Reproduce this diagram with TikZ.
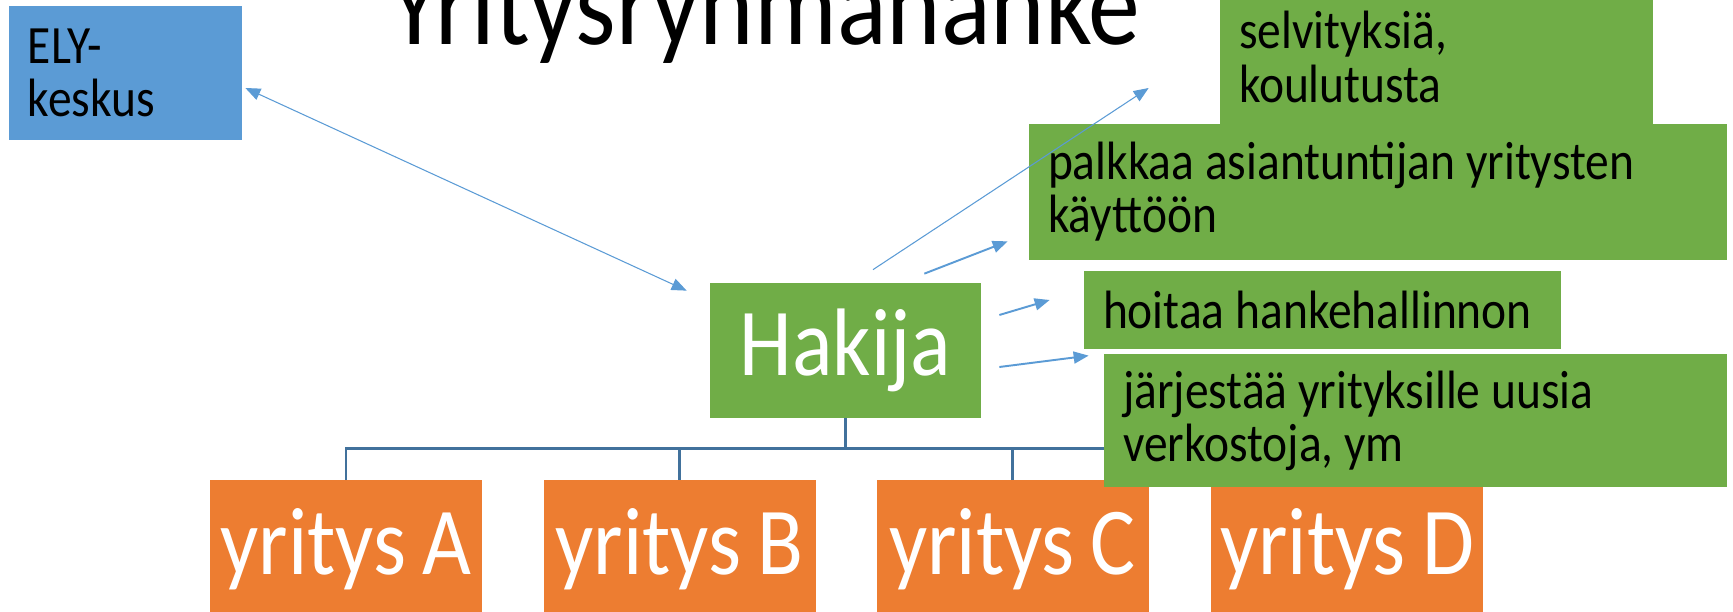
\documentclass[tikz,border=0pt]{standalone}
\usepackage{fontspec}
\setmainfont[FakeStretch=0.88,WordSpace=0.85]{Carlito}
\usetikzlibrary{arrows.meta}
\definecolor{elyblue}{RGB}{91,155,213}
\definecolor{boxgreen}{RGB}{112,173,71}
\definecolor{boxorange}{RGB}{237,125,49}
\definecolor{treeblue}{RGB}{65,113,156}
\newcommand{\smalltext}{\fontsize{30.7}{30.2}\selectfont}
\newcommand{\bigtext}{\fontsize{54.6}{60}\selectfont}
\newcommand{\titletext}{\fontsize{67}{70}\selectfont}

\begin{document}
\begin{tikzpicture}[
    textbox/.style={rectangle,fill=#1,inner xsep=0.38cm,inner ysep=0pt,align=left,font=\smalltext,
        execute at begin node={\spaceskip=0.2em\relax}},
    bigbox/.style={rectangle,fill=#1,text=white,inner sep=0pt,font=\bigtext,minimum width=5.44cm,minimum height=2.76cm},
    tree/.style={draw=treeblue,line width=1.4pt},
    arr/.style={draw=elyblue,line width=0.6pt,-{Triangle[length=0.3cm,width=0.24cm]}},
    biarr/.style={draw=elyblue,line width=0.6pt,{Triangle[length=0.3cm,width=0.24cm]}-{Triangle[length=0.3cm,width=0.24cm]}}
]
\useasboundingbox (0,0) rectangle (34.66,12.24);

% boxes
\node[textbox=elyblue,minimum width=4.66cm,text width=3.90cm,minimum height=2.68cm] (ely) at (2.51,10.78) {ELY-\\keskus};
\node[font=\titletext,anchor=base] (title) at (15.30,11.34) {Yritysryhmähanke};
\node[textbox=boxgreen,minimum width=8.66cm,text width=7.90cm,minimum height=2.68cm] (selv) at (28.73,11.10) {selvityksiä,\\koulutusta};
\node[textbox=boxgreen,minimum width=13.96cm,text width=13.20cm,minimum height=2.72cm] (palk) at (27.56,8.40) {palkkaa asiantuntijan yritysten\\käyttöön};
\node[textbox=boxgreen,minimum width=9.54cm,text width=8.78cm,minimum height=1.56cm] (hoit) at (26.45,6.04) {hoitaa hankehallinnon};
\node[bigbox=boxgreen,minimum width=5.42cm,minimum height=2.70cm] (hakija) at (16.91,5.23) {Hakija};
\node[bigbox=boxorange] (ya) at (6.92,1.26) {yritys A};
\node[bigbox=boxorange] (yb) at (13.59,1.26) {yritys B};
\node[bigbox=boxorange] (yc) at (20.25,1.26) {yritys C};
\node[bigbox=boxorange] (yd) at (26.94,1.26) {yritys D};

% tree
\draw[tree] (hakija.south) -- ++(0,-0.6) -| (ya.north);
\draw[tree] (hakija.south) -- ++(0,-0.6) -| (yb.north);
\draw[tree] (hakija.south) -- ++(0,-0.6) -| (yc.north);
\draw[tree] (hakija.south) -- ++(0,-0.6) -| (yd.north);

\node[textbox=boxgreen,minimum width=12.46cm,text width=11.70cm,minimum height=2.66cm] (jarj) at (28.31,3.83) {järjestää yrityksille uusia\\verkostoja, ym};

% arrows
\draw[biarr] ([shift={(0.06,-0.30)}]ely.east) -- ([shift={(-0.46,-0.16)}]hakija.north west);
\draw[arr] ([shift={(0.55,0.26)}]hakija.north) -- ([shift={(-1.42,-0.62)}]selv.west);
\draw[arr,line width=1.1pt] ([shift={(-1.14,0.18)}]hakija.north east) -- ([shift={(-0.42,0.38)}]palk.south west);
\draw[arr,line width=1.1pt] ([shift={(0.36,0.71)}]hakija.east) -- ([shift={(-0.68,0.20)}]hoit.west);
\draw[arr,line width=1.1pt] ([shift={(0.36,-0.33)}]hakija.east) -- ([shift={(-0.30,-0.04)}]jarj.north west);
\end{tikzpicture}
\end{document}
